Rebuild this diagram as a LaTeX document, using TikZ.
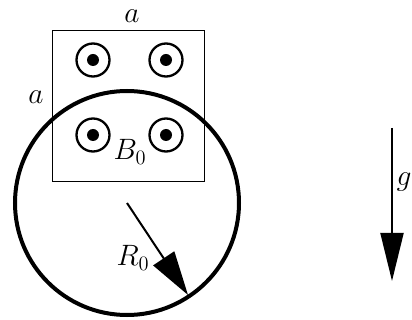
\documentclass[tikz,border=0pt]{standalone}
\usetikzlibrary{arrows.meta}
\begin{document}
\begin{tikzpicture}[x=1pt,y=-1pt,
  lbl/.style={font=\huge, scale=1.42, inner sep=0pt},
  fieldring/.style={circle, draw, line width=2.3pt, minimum size=33pt, inner sep=0pt},
  fielddot/.style={circle, fill, minimum size=12pt, inner sep=0pt},
  bigarrow/.style={line width=2pt, -{Triangle[length=44pt,width=25pt]}}]
\useasboundingbox (0,0) rectangle (412,320);
% square region
\node[draw, line width=1.8pt, minimum width=152pt, minimum height=151pt, inner sep=0pt] (sq) at (128.5,106) {};
% field symbols
\foreach \n/\x/\y in {ul/93/60, ur/166/60, ll/93/135, lr/166/135}{
  \node[fieldring] (r\n) at (\x,\y) {};
  \node[fielddot] (d\n) at (\x,\y) {};
}
% big ring
\node[circle, draw, line width=4pt, minimum size=224pt, inner sep=0pt] (ring) at (127,203) {};
\coordinate (c) at (127,203);
\coordinate (tip) at (188,295);
\draw[bigarrow] (c) -- (tip);
% gravity
\coordinate (g0) at (392,128);
\coordinate (g1) at (392,281);
\draw[line width=2pt, -{Triangle[length=48pt,width=23pt]}] (g0) -- (g1);
% labels
\node[lbl] (la) at (132,16) {$a$};
\node[lbl] (lb) at (36,97) {$a$};
\node[lbl] (lB) at (130,152) {$B_0$};
\node[lbl] (lR) at (133,258) {$R_0$};
\node[lbl] (lg) at (404,182) {$g$};
\end{tikzpicture}
\end{document}
